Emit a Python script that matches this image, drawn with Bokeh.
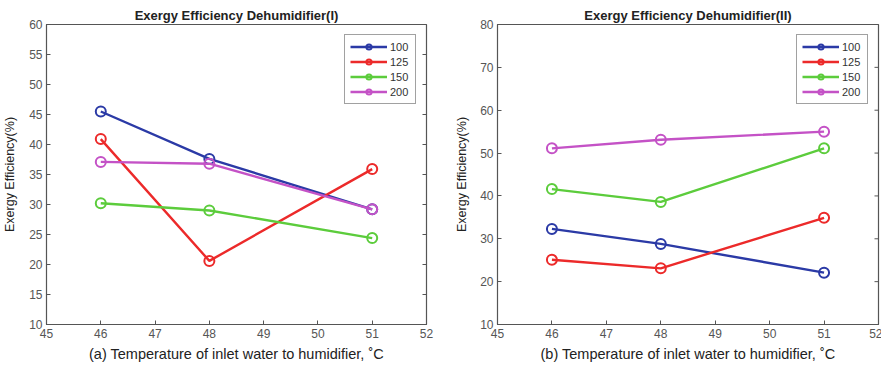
from bokeh.plotting import figure
from bokeh.layouts import row
from bokeh.models import Range1d, FixedTicker, Legend, LegendItem
from bokeh.embed import file_html
from bokeh.resources import INLINE

x_vals = [46, 48, 51]
series_names = ["100", "125", "150", "200"]
colors = ["#2b3aa6", "#ec2a2a", "#5ccc3c", "#c452c6"]

left_values = {
    "100": [45.5, 37.6, 29.2],
    "125": [40.9, 20.6, 35.9],
    "150": [30.2, 29.0, 24.4],
    "200": [37.1, 36.8, 29.2],
}
right_values = {
    "100": [32.3, 28.8, 22.1],
    "125": [25.1, 23.1, 34.9],
    "150": [41.6, 38.6, 51.1],
    "200": [51.1, 53.1, 55.0],
}
x_ticks = [45, 46, 47, 48, 49, 50, 51, 52]
left_yticks = [10, 15, 20, 25, 30, 35, 40, 45, 50, 55, 60]
right_yticks = [10, 20, 30, 40, 50, 60, 70, 80]

FONT = "Liberation Sans"
AX = "#555555"


def make(title, values, yticks, xlabel, frame_w, border_left, border_right, ylab_standoff):
    ymin, ymax = yticks[0], yticks[-1]
    p = figure(frame_width=frame_w, frame_height=300, output_backend="svg", toolbar_location=None,
               x_range=Range1d(45, 52), y_range=Range1d(ymin, ymax),
               min_border_left=border_left, min_border_right=border_right,
               min_border_top=24, min_border_bottom=44)
    p.title.text = title
    p.title.align = "center"
    p.title.text_font = FONT
    p.title.text_font_size = "13px"
    p.title.text_font_style = "bold"
    p.title.text_color = "#222222"
    p.title.standoff = 3
    p.title.offset = 0
    p.xgrid.visible = False
    p.ygrid.visible = False
    p.outline_line_color = AX
    p.outline_line_width = 1.2
    p.background_fill_color = "white"
    p.border_fill_color = "white"

    for ax, ticks in ((p.xaxis[0], x_ticks), (p.yaxis[0], yticks)):
        ax.ticker = FixedTicker(ticks=ticks)
        ax.major_tick_in = 4
        ax.major_tick_out = 0
        ax.minor_tick_line_color = None
        ax.axis_line_color = AX
        ax.major_tick_line_color = AX
        ax.major_label_text_font = FONT
        ax.major_label_text_font_size = "12px"
        ax.major_label_text_color = "#555555"
        ax.major_label_standoff = 4
        ax.axis_label_text_font = FONT
        ax.axis_label_text_font_style = "normal"
        ax.axis_label_text_color = "#222222"
    p.xaxis[0].axis_label = xlabel
    p.xaxis[0].axis_label_text_font_size = "14.5px"
    p.xaxis[0].axis_label_standoff = 5
    p.yaxis[0].axis_label = "Exergy Efficiency(%)"
    p.yaxis[0].axis_label_text_font_size = "12.5px"
    p.yaxis[0].axis_label_standoff = ylab_standoff

    # inside ticks on the top and right edges of the box (clipped to the frame)
    p.scatter(x_ticks, [ymax] * len(x_ticks), marker="line", size=8,
              line_color=AX, line_width=1)
    p.scatter([52] * len(yticks), yticks, marker="dash", size=8,
              line_color=AX, line_width=1)

    items = []
    for name, col in zip(series_names, colors):
        ys = values[name]
        l = p.line(x_vals, ys, line_color=col, line_width=2.4)
        c = p.scatter(x_vals, ys, marker="circle", size=10, line_color=col, line_width=2,
                      fill_color=None)
        items.append(LegendItem(label=name, renderers=[l, c]))
    legend = Legend(items=items, location="top_right")
    legend.label_text_font = FONT
    legend.label_text_font_size = "11px"
    legend.label_text_color = "#333333"
    legend.glyph_width = 37
    legend.glyph_height = 13
    legend.label_height = 13
    legend.spacing = 2
    legend.padding = 5
    legend.margin = 10
    legend.label_standoff = 3
    legend.border_line_color = "#444444"
    legend.border_line_width = 1.2
    legend.background_fill_alpha = 1
    p.add_layout(legend, "center")
    return p


p1 = make("Exergy Efficiency Dehumidifier(I)", left_values, left_yticks,
          "(a) Temperature of inlet water to humidifier, \u02daC", 380, 44, 16, 9)
p2 = make("Exergy Efficiency Dehumidifier(II)", right_values, right_yticks,
          "(b) Temperature of inlet water to humidifier, \u02daC", 381, 55, 4, 8)

layout = row(p1, p2)
open("out.html", "w").write(file_html(layout, INLINE))
